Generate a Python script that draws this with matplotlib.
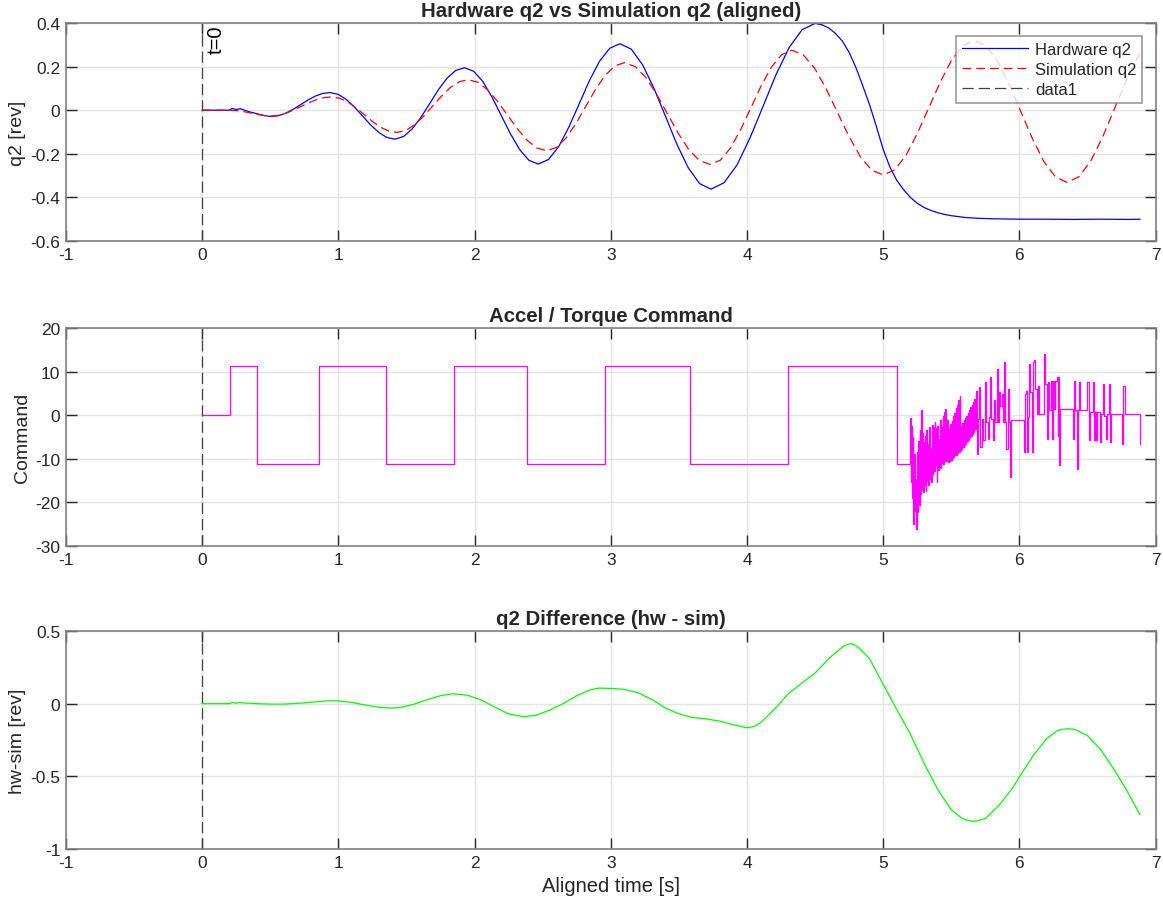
import matplotlib
matplotlib.use("Agg")
import matplotlib.pyplot as plt

plt.rcParams['font.family'] = ['Liberation Sans', 'DejaVu Sans']
plt.rcParams['axes.unicode_minus'] = False

# ---------------- data ----------------
x_ticks = [-1, 0, 1, 2, 3, 4, 5, 6, 7]
q2_ticks = [-0.6, -0.4, -0.2, 0, 0.2, 0.4]
q2_ticklabels = ["-0.6", "-0.4", "-0.2", "0", "0.2", "0.4"]
cmd_ticks = [-30, -20, -10, 0, 10, 20]
diff_ticks = [-1, -0.5, 0, 0.5]
diff_ticklabels = ["-1", "-0.5", "0", "0.5"]

hw_t = [0.0, 0.1, 0.2, 0.22, 0.25, 0.28, 0.31, 0.35, 0.40, 0.45, 0.48, 0.51,
        0.5635, 0.617, 0.6705, 0.724, 0.7775, 0.831, 0.8845, 0.938,
        0.998, 1.057, 1.117, 1.177, 1.236, 1.296, 1.355, 1.415,
        1.479, 1.543, 1.607, 1.671, 1.734, 1.798, 1.862, 1.926,
        1.994, 2.062, 2.129, 2.197, 2.265, 2.333, 2.400, 2.468,
        2.543, 2.618, 2.693, 2.768, 2.842, 2.917, 2.992, 3.067,
        3.151, 3.234, 3.318, 3.402, 3.485, 3.569, 3.652, 3.736,
        3.831, 3.927, 4.022, 4.118, 4.213, 4.309, 4.404, 4.499,
        4.55, 4.6, 4.65, 4.7, 4.75, 4.8, 4.85, 4.9, 4.95, 5.0, 5.05, 5.1,
        5.15, 5.2, 5.25, 5.3, 5.35, 5.4, 5.45, 5.5, 5.6, 5.7, 5.8, 5.9,
        6.0, 6.2, 6.4, 6.6, 6.8, 6.885]
hw_q2 = [0.0, 0.0, 0.0, 0.008, 0.003, 0.007, 0.0, -0.008, -0.016, -0.024, -0.027, -0.029,
         -0.0248, -0.0129, 0.0050, 0.026, 0.0470, 0.0649, 0.0768, 0.081,
         0.0729, 0.0498, 0.0149, -0.026, -0.0669, -0.1018, -0.1249, -0.133,
         -0.1205, -0.0851, -0.0317, 0.031, 0.0937, 0.1471, 0.1825, 0.195,
         0.1782, 0.1305, 0.0584, -0.026, -0.1104, -0.1825, -0.2302, -0.247,
         -0.226, -0.1664, -0.0764, 0.029, 0.1344, 0.2244, 0.284, 0.305,
         0.2797, 0.2076, 0.0989, -0.0285, -0.1559, -0.2646, -0.3367, -0.362,
         -0.3331, -0.251, -0.1272, 0.018, 0.1632, 0.287, 0.3691, 0.398,
         0.392, 0.377, 0.352, 0.317, 0.265, 0.195, 0.112, 0.025, -0.075, -0.180, -0.262, -0.322,
         -0.365, -0.400, -0.427, -0.446, -0.460, -0.470, -0.478, -0.484, -0.492, -0.496, -0.498, -0.499,
         -0.500, -0.500, -0.501, -0.500, -0.501, -0.500]

sim_t = [0.0, 0.1, 0.2, 0.25, 0.3, 0.35, 0.4, 0.45, 0.5,
         0.556, 0.6125, 0.669, 0.725, 0.781, 0.8375, 0.894, 0.95,
         1.01, 1.07, 1.13, 1.19, 1.25, 1.31, 1.37, 1.43,
         1.4955, 1.561, 1.6265, 1.692, 1.7575, 1.823, 1.8885, 1.954,
         2.026, 2.098, 2.17, 2.242, 2.314, 2.386, 2.458, 2.53,
         2.601, 2.6725, 2.744, 2.815, 2.886, 2.9575, 3.029, 3.10,
         3.179, 3.2575, 3.336, 3.415, 3.494, 3.5725, 3.651, 3.73,
         3.805, 3.88, 3.955, 4.03, 4.105, 4.18, 4.255, 4.33,
         4.414, 4.4975, 4.581, 4.665, 4.749, 4.8325, 4.916, 5.0,
         5.084, 5.1675, 5.251, 5.335, 5.419, 5.5025, 5.586, 5.67,
         5.755, 5.84, 5.925, 6.01, 6.095, 6.18, 6.265, 6.35,
         6.4375, 6.525, 6.6125, 6.70, 6.7875, 6.875, 6.885]
sim_q2 = [0.0, 0.0, 0.0, -0.002, -0.006, -0.012, -0.019, -0.024, -0.027,
          -0.0237, -0.0142, 0.0002, 0.017, 0.0338, 0.0482, 0.0576, 0.061,
          0.0548, 0.0372, 0.0106, -0.0205, -0.0516, -0.0782, -0.0958, -0.102,
          -0.0928, -0.0667, -0.0272, 0.019, 0.0652, 0.1047, 0.1308, 0.140,
          0.1276, 0.0924, 0.0393, -0.023, -0.0853, -0.1384, -0.1736, -0.186,
          -0.1706, -0.127, -0.0612, 0.016, 0.0932, 0.1592, 0.2028, 0.218,
          0.2003, 0.1498, 0.0737, -0.0155, -0.1047, -0.1808, -0.2313, -0.249,
          -0.2291, -0.1725, -0.0871, 0.013, 0.1131, 0.1985, 0.2551, 0.275,
          0.2533, 0.1915, 0.0983, -0.011, -0.1203, -0.2135, -0.2753, -0.297,
          -0.2736, -0.2069, -0.1063, 0.0115, 0.1293, 0.2299, 0.2966, 0.320,
          0.2953, 0.225, 0.1188, -0.0055, -0.1298, -0.236, -0.3063, -0.331,
          -0.3051, -0.2316, -0.1206, 0.0095, 0.1396, 0.2506, 0.260]

cmd_t = [0.0, 0.203, 0.402, 0.861, 1.353, 1.852, 2.388, 2.954, 3.578, 4.300, 5.103,
         5.197, 5.202, 5.207, 5.212, 5.217, 5.222, 5.227, 5.232, 5.237, 5.242,
         5.247, 5.252, 5.257, 5.262, 5.267, 5.272, 5.277, 5.282, 5.287, 5.292,
         5.297, 5.302, 5.307, 5.312, 5.317, 5.322, 5.327, 5.332, 5.337, 5.342,
         5.347, 5.352, 5.357, 5.362, 5.367, 5.372, 5.377, 5.382, 5.387, 5.392,
         5.397, 5.402, 5.407, 5.412, 5.417, 5.422, 5.427, 5.432, 5.437, 5.442,
         5.447, 5.452, 5.457, 5.462, 5.467,
         5.473, 5.478, 5.483, 5.488, 5.493, 5.498, 5.503, 5.508, 5.513, 5.518,
         5.522, 5.527, 5.532, 5.537, 5.542, 5.547, 5.552, 5.557, 5.562, 5.566,
         5.571, 5.576, 5.581, 5.586, 5.591, 5.596, 5.601, 5.606, 5.610, 5.615, 5.620,
         5.625, 5.630, 5.635, 5.640, 5.645, 5.650, 5.655, 5.659, 5.664, 5.669, 5.674,
         5.679, 5.686, 5.693, 5.703, 5.711, 5.723, 5.735, 5.747, 5.755, 5.767,
         5.777, 5.786, 5.794, 5.804, 5.813, 5.821, 5.833, 5.840, 5.850, 5.860,
         5.870, 5.879, 5.889, 5.896, 5.904, 5.914, 5.923, 5.933, 5.941,
         6.034, 6.041, 6.048, 6.056, 6.066, 6.073, 6.080, 6.090, 6.097, 6.102,
         6.110, 6.117, 6.127, 6.139, 6.146, 6.183, 6.190, 6.200, 6.212, 6.220,
         6.230, 6.237, 6.244, 6.254, 6.261, 6.274, 6.281, 6.286, 6.293, 6.298,
         6.391, 6.398, 6.408, 6.420, 6.428, 6.438, 6.445, 6.499, 6.508, 6.516,
         6.538, 6.545, 6.553, 6.560, 6.567, 6.592, 6.601, 6.616, 6.624, 6.636,
         6.646, 6.655, 6.665, 6.675, 6.756, 6.763, 6.773, 6.885]
cmd_v = [0.0, 11.2, -11.2, 11.2, -11.2, 11.2, -11.2, 11.2, -11.2, 11.2, -11.2,
         -0.6, -15.3, -2.5, -19.0, -5.0, -24.9, -9.0, -22.0, -14.6, -26.2,
         -8.5, -22.2, -6.0, -20.5, -3.5, -18.0, 1.1, -16.9, -4.0, -17.5,
         -6.2, -16.1, -4.7, -17.3, -3.5, -15.0, -6.6, -16.0, -2.8, -14.6,
         -7.7, -15.3, -2.2, -13.5, -2.7, -12.8, -1.6, -11.5, -3.0, -15.3,
         -2.5, -12.5, -5.4, -11.9, -1.2, -12.0, -2.7, -11.0, -0.1, -11.2,
         0.8, -10.6, 1.5, -10.4, -1.0,
         -3.9, -10.8, -3.1, -10.4, -2.0, -10.3, -1.3, -9.8, -0.2, -9.7,
         0.5, -9.2, 1.6, -9.1, 2.3, -8.6, 3.4, -8.5, 4.4, -8.0,
         -2.4, -7.7, -1.8, -7.3, -1.2, -6.8, -0.7, -6.5, -0.1, -6.0, 0.6,
         -5.6, 1.1, -5.1, 1.8, -4.7, 2.4, -4.2, 3.0, -3.8, 3.7, -3.1,
         5.6, -8.9, -0.8, 6.4, -7.3, -0.8, -5.8, 7.6, -1.6, -5.4,
         -0.5, 8.7, -0.8, -5.8, 3.4, -1.6, 10.6, -1.6, 5.3, 2.2,
         4.9, -1.6, 12.1, -1.6, -7.7, 6.0, -1.6, -14.2, -1.2,
         -8.5, 4.9, 5.6, -8.5, -0.5, 11.8, 5.3, -8.5, -0.1, 12.1,
         12.7, 6.0, 0.3, 6.8, 0.3, 14.0, 7.2, -5.4, 7.6, 1.1,
         7.9, -5.4, 7.9, 1.5, 7.9, 8.7, -4.7, 8.7, -11.5, 1.5,
         -5.4, 7.9, 1.1, -12.3, 1.1, 7.6, 1.1, 7.6, -5.8, 0.7,
         7.6, -5.8, 0.7, -5.8, 0.7, -6.2, 0.3, 7.2, -0.1, -5.4,
         0.3, 7.2, -6.2, 0.3, -6.6, 6.8, 0.3, -6.6]

diff_t = [0.0, 0.1, 0.2, 0.22, 0.25, 0.28, 0.31, 0.35, 0.4, 0.5, 0.6, 0.7, 0.8, 0.9, 0.94,
          1.0, 1.1, 1.2, 1.3, 1.38, 1.45, 1.55, 1.65, 1.75, 1.84, 1.95, 2.05, 2.15, 2.25,
          2.36, 2.45, 2.55, 2.65, 2.75, 2.85, 2.91, 3.0, 3.1, 3.2, 3.3, 3.4, 3.5, 3.6,
          3.7, 3.8, 3.9, 4.0, 4.05, 4.1, 4.2, 4.3, 4.4, 4.5, 4.6, 4.7, 4.73, 4.76, 4.79, 4.82, 4.9,
          5.0, 5.1, 5.2, 5.3, 5.4, 5.5, 5.58, 5.62, 5.66, 5.70, 5.75, 5.85, 5.95, 6.0, 6.1, 6.2,
          6.28, 6.31, 6.35, 6.39, 6.42, 6.5, 6.6, 6.7, 6.79, 6.885]
diff_v = [0.0, 0.0, 0.0, 0.008, 0.004, 0.009, 0.004, 0.003, 0.0, -0.003, -0.003, 0.002, 0.010, 0.018, 0.020,
          0.019, 0.008, -0.010, -0.025, -0.030, -0.027, -0.005, 0.027, 0.055, 0.068, 0.058, 0.025, -0.025, -0.070,
          -0.090, -0.080, -0.045, 0.0, 0.055, 0.095, 0.107, 0.105, 0.098, 0.075, 0.030, -0.030, -0.070, -0.095,
          -0.105, -0.120, -0.145, -0.166, -0.158, -0.130, -0.040, 0.065, 0.140, 0.210, 0.310, 0.390, 0.405, 0.413, 0.405, 0.385, 0.310,
          0.132, -0.040, -0.210, -0.410, -0.590, -0.730, -0.790, -0.803, -0.809, -0.805, -0.790, -0.700, -0.580, -0.504, -0.360, -0.240,
          -0.185, -0.177, -0.173, -0.175, -0.182, -0.220, -0.320, -0.460, -0.600, -0.763]

titles = ["Hardware q2 vs Simulation q2 (aligned)", "Accel / Torque Command", "q2 Difference (hw - sim)"]
ylabels = ["q2 [rev]", "Command", "hw-sim [rev]"]
xlabel = "Aligned time [s]"
legend_labels = ["Hardware q2", "Simulation q2", "data1"]
xline_label = "t=0"

# ---------------- figure ----------------
W, H = 1163, 904
fig = plt.figure(figsize=(W / 100, H / 100), dpi=100)

ax_left = 66 / W
ax_w = (1155.6 - 66) / W
ax_h = 218 / H
bottoms = [1 - 242 / H, 1 - 547 / H, 1 - 850 / H]
axes = [fig.add_axes([ax_left, b, ax_w, ax_h]) for b in bottoms]

TXT = '#262626'
dash = (0, (7, 4))
xdash = (0, (9, 4))


def style(ax, yticks, ylim, yticklabels=None):
    ax.set_xlim(-1, 7)
    ax.set_xticks(x_ticks)
    ax.set_xticklabels([str(v) for v in x_ticks])
    ax.set_ylim(*ylim)
    ax.set_yticks(yticks)
    if yticklabels is not None:
        ax.set_yticklabels(yticklabels)
    ax.grid(True, color='#e3e3e3', linewidth=1.0)
    ax.set_axisbelow(True)
    ax.tick_params(direction='in', length=8, width=1.0, top=True, right=True,
                   colors=TXT, labelsize=12.5, pad=4)
    for s in ax.spines.values():
        s.set_color('#808080')
        s.set_linewidth(1.2)


# top panel
ax = axes[0]
style(ax, q2_ticks, (-0.6, 0.4), q2_ticklabels)
h1, = ax.plot(hw_t, hw_q2, color='#0000ff', linewidth=0.9)
h2, = ax.plot(sim_t, sim_q2, color='#ff0000', linewidth=0.9, linestyle=dash)
h3 = ax.axvline(0, color='#404040', linewidth=0.9, linestyle=xdash)
ax.text(0.03, 0.392, xline_label, rotation=90, ha='left', va='top', fontsize=14.5, color='black')
leg = ax.legend([h1, h2, h3], legend_labels, loc='upper right', fontsize=12,
                frameon=True, fancybox=False, borderaxespad=0.8, handlelength=4.0,
                handletextpad=0.4, labelspacing=0.3, borderpad=0.35)
leg.get_frame().set_edgecolor('#808080')
leg.get_frame().set_linewidth(1.2)
for t in leg.get_texts():
    t.set_color(TXT)

# middle panel
ax = axes[1]
style(ax, cmd_ticks, (-30, 20))
ax.plot(cmd_t, cmd_v, color='#ff00ff', linewidth=0.9, drawstyle='steps-post')
ax.axvline(0, color='#404040', linewidth=0.9, linestyle=xdash)

# bottom panel
ax = axes[2]
style(ax, diff_ticks, (-1, 0.5), diff_ticklabels)
ax.plot(diff_t, diff_v, color='#00ff00', linewidth=0.9)
ax.axvline(0, color='#404040', linewidth=0.9, linestyle=xdash)
ax.set_xlabel(xlabel, fontsize=14.5, color=TXT, labelpad=5)

for ax, ttl, yl in zip(axes, titles, ylabels):
    ax.set_title(ttl, fontsize=14.7, fontweight='bold', color=TXT, pad=5)
    ax.set_ylabel(yl, fontsize=14, color=TXT, labelpad=3)

fig.savefig("out.png", dpi=100)
